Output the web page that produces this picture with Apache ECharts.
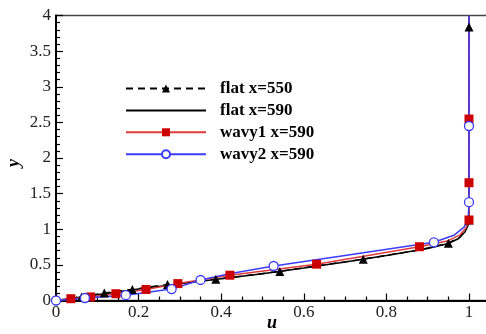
<!DOCTYPE html>
<html>
<head>
<meta charset="utf-8">
<script src="https://cdn.jsdelivr.net/npm/echarts@6/dist/echarts.min.js"></script>
<style>
  html, body { margin: 0; padding: 0; background: #fff; }
  #chart { width: 486px; height: 334px; }
</style>
</head>
<body>
<div id="chart"></div>
<script>
// Velocity profiles u(y): curve points and marker points, as [u, y]
const seriesNames = ['flat x=550', 'flat x=590', 'wavy1 x=590', 'wavy2 x=590'];

const flat550Curve = [[0, 0], [0.88, 0.71], [0.978, 0.89], [0.993, 1.0], [1.0, 4.0]];
const flat550Marks = [[0.062, 0.05], [0.117, 0.105], [0.185, 0.155], [0.270, 0.225], [0.387, 0.298],
                      [0.542, 0.408], [0.744, 0.58], [0.950, 0.805], [1.0, 1.13], [1.0, 3.84]];

const flat590Curve = [[0, 0], [0.1, 0.08], [0.2, 0.16], [0.3, 0.235], [0.4, 0.305], [0.5, 0.375],
                      [0.6, 0.455], [0.7, 0.54], [0.8, 0.63], [0.9, 0.73], [0.95, 0.80],
                      [0.975, 0.87], [0.99, 0.96], [0.998, 1.06], [1.0, 1.2], [1.0, 4.0]];
const flat590Marks = [];

const wavy1Curve = [[0, 0], [0.95, 0.84], [0.978, 0.92], [0.993, 1.02], [1.0, 4.0]];
const wavy1Marks = [[0.036, 0.025], [0.084, 0.05], [0.145, 0.095], [0.218, 0.155], [0.295, 0.237],
                    [0.421, 0.355], [0.631, 0.51], [0.880, 0.755], [1.0, 1.13], [1.0, 1.653], [1.0, 2.547]];

const wavy2Curve = [[0.42, 0.375], [0.72, 0.65], [0.965, 0.92], [0.988, 1.03], [0.998, 1.14], [1.0, 4.0]];
const wavy2Marks = [[0, 0], [0.070, 0.035], [0.169, 0.075], [0.280, 0.16], [0.350, 0.288],
                    [0.527, 0.484], [0.915, 0.817], [1.0, 1.38], [1.0, 2.449]];

const xTicks = { min: 0, max: 1.2, interval: 0.2 };
const yTicks = { min: 0, max: 4, interval: 0.5 };

// Merge curve points and marker points into one ordered line; only markers get a symbol
function profile(curve, marks) {
  const pts = curve.map(p => ({ value: p, symbol: 'none' }))
    .concat(marks.map(p => ({ value: p })));
  pts.sort((a, b) => (a.value[1] - b.value[1]) || (a.value[0] - b.value[0]));
  return pts;
}

const serif = "'Liberation Serif', 'Times New Roman', serif";

const chart = echarts.init(document.getElementById('chart'), null, { renderer: 'canvas' });
chart.setOption({
  animation: false,
  backgroundColor: '#fff',
  grid: {
    left: 56, top: 15.5, height: 285, width: 495.6,
    outerBoundsMode: 'none', containLabel: false,
    show: true, borderColor: '#444', borderWidth: 1.5, backgroundColor: 'transparent'
  },
  legend: {
    orient: 'vertical', left: 125, top: 80, padding: 0,
    itemWidth: 80, itemHeight: 10, itemGap: 4.9,
    data: seriesNames,
    textStyle: { fontFamily: serif, fontWeight: 'bold', fontSize: 17, lineHeight: 17, color: '#000', padding: [0, 0, 0, 9] }
  },
  xAxis: {
    type: 'value', min: xTicks.min, max: xTicks.max, interval: xTicks.interval,
    axisLine: { show: true, onZero: false, lineStyle: { color: '#000', width: 2 } },
    axisTick: { show: true, inside: true, length: 7, lineStyle: { color: '#000', width: 1.2 } },
    minorTick: { show: true, splitNumber: 4, length: 4, lineStyle: { color: '#000', width: 1.2 } },
    splitLine: { show: false },
    axisLabel: { margin: 4, fontFamily: serif, fontSize: 17, color: '#222', showMaxLabel: false }
  },
  yAxis: {
    type: 'value', min: yTicks.min, max: yTicks.max, interval: yTicks.interval,
    axisLine: { show: true, onZero: false, lineStyle: { color: '#000', width: 2 } },
    axisTick: { show: true, inside: true, length: 7, lineStyle: { color: '#000', width: 1.2 } },
    minorTick: { show: true, splitNumber: 5, length: 4, lineStyle: { color: '#000', width: 1.2 } },
    splitLine: { show: false },
    axisLabel: { margin: 5, fontFamily: serif, fontSize: 17, color: '#222' }
  },
  graphic: [
    { type: 'text', left: 267, top: 314,
      style: { text: 'u', font: "italic bold 18px 'Liberation Serif', serif", fill: '#000' } },
    { type: 'text', x: 5, y: 167, rotation: Math.PI / 2,
      style: { text: 'y', font: "italic bold 18px 'Liberation Serif', serif", fill: '#000' } }
  ],
  series: [
    {
      name: seriesNames[0], type: 'line', data: profile(flat550Curve, flat550Marks),
      symbol: 'triangle', symbolSize: 9, showAllSymbol: true,
      lineStyle: { color: '#000', width: 1.5, type: [7, 5] },
      itemStyle: { color: '#000' }
    },
    {
      name: seriesNames[1], type: 'line', data: profile(flat590Curve, flat590Marks),
      symbol: 'circle', symbolSize: 0, showSymbol: false,
      lineStyle: { color: '#000', width: 1.5 },
      itemStyle: { color: 'rgba(0,0,0,0)' }
    },
    {
      name: seriesNames[2], type: 'line', data: profile(wavy1Curve, wavy1Marks),
      symbol: 'rect', symbolSize: 9, showAllSymbol: true,
      lineStyle: { color: '#e03a3a', width: 1.5 },
      itemStyle: { color: '#cc0000' }
    },
    {
      name: seriesNames[3], type: 'line', data: profile(wavy2Curve, wavy2Marks),
      symbol: 'circle', symbolSize: 9, showAllSymbol: true,
      lineStyle: { color: '#3c3cff', width: 1.5 },
      itemStyle: { color: '#fff', borderColor: '#3c3cff', borderWidth: 1.3 }
    }
  ]
});
</script>
</body>
</html>
